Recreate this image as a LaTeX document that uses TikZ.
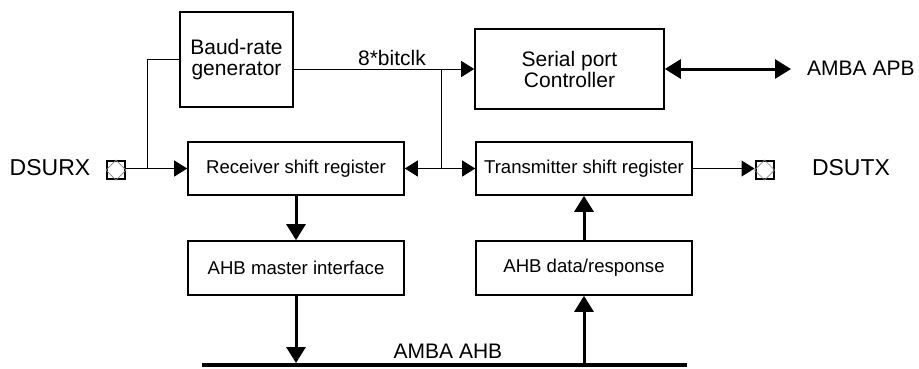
\documentclass[tikz,border=0pt]{standalone}
\usepackage{fontspec}
\setmainfont{Liberation Sans}
\usetikzlibrary{arrows.meta}
\begin{document}
\begin{tikzpicture}[x=1pt,y=-1pt,
 box/.style={draw,line width=1.6pt,inner sep=0,align=center,font=\fontsize{21}{21}\selectfont},
 sbox/.style={box,font=\fontsize{18.6}{20}\selectfont},
 thinln/.style={line width=1pt},
 thinarr/.style={thinln,-{Triangle[length=13pt,width=16pt]}},
 thickarr/.style={line width=3pt,-{Triangle[length=16pt,width=19pt]}},
 lbl/.style={inner sep=0,font=\fontsize{21}{21}\selectfont},
 biglbl/.style={inner sep=0,font=\fontsize{23}{23}\selectfont},
 port/.style={draw,line width=2pt,minimum size=18pt,inner sep=0}]
\useasboundingbox (0,0) rectangle (919,368);
% blocks
\node[box,minimum width=113pt,minimum height=95pt] (baud) at (236.5,59.5) {Baud-rate\\generator};
\node[box,minimum width=189pt,minimum height=80pt] (serial) at (569.5,69) {Serial port\\Controller};
\node[sbox,minimum width=216pt,minimum height=53pt] (rx) at (296,168.5) {Receiver shift register};
\node[sbox,minimum width=216pt,minimum height=53pt] (tx) at (584,168.5) {Transmitter shift register};
\node[sbox,minimum width=216pt,minimum height=54pt] (ahbm) at (296,268) {AHB master interface};
\node[sbox,minimum width=216pt,minimum height=54pt] (ahbd) at (584,268) {AHB data/response};
% ports
\node[port] (rxp) at (116,170) {};
\draw[gray,line width=0.7pt] (rxp.north) -- (rxp.east) -- (rxp.south) -- (rxp.west) -- cycle;
\node[port] (txp) at (764.5,170) {};
\draw[gray,line width=0.7pt] (txp.north) -- (txp.east) -- (txp.south) -- (txp.west) -- cycle;
% labels
\node[biglbl] (dsurx) at (50,168) {DSURX};
\node[biglbl] (dsutx) at (851,168) {DSUTX};
\node[lbl,anchor=west] (apb) at (807,68) {AMBA APB};
\node[lbl] (ahb) at (448,351) {AMBA AHB};
\node[lbl] (clk) at (392,58) {8*bitclk};
% coordinates
\coordinate (br) at (147,168.5);
\coordinate (jt) at (441,69);
\coordinate (jb) at (441,168.5);
\coordinate (apbend) at (791,69);
\coordinate (busL) at (202,365);
\coordinate (busR) at (687,365);
% connectors
\draw[thinarr] (rxp.east |- rx.west) -- (rx.west);
\draw[thinln] (br) |- (baud.west);
\draw[thinarr] (baud.east |- serial.west) -- (serial.west);
\draw[thinln] (jt) -- (jb);
\draw[thinarr] (jb) -- (rx.east);
\draw[thinarr] (jb) -- (tx.west);
\draw[thinarr] (tx.east) -- (txp.west |- tx.east);
\draw[line width=3pt,{Triangle[length=16pt,width=19pt]}-{Triangle[length=16pt,width=19pt]}] (serial.east) -- (apbend);
\draw[thickarr] (rx.south) -- (ahbm.north);
\draw[thickarr,shorten >=2pt] (ahbm.south) -- (ahbm.south |- busL);
\draw[thickarr] (ahbd.south |- busL) -- (ahbd.south);
\draw[thickarr] (ahbd.north) -- (tx.south);
\draw[line width=4.5pt] (busL) -- (busR);
\end{tikzpicture}
\end{document}
